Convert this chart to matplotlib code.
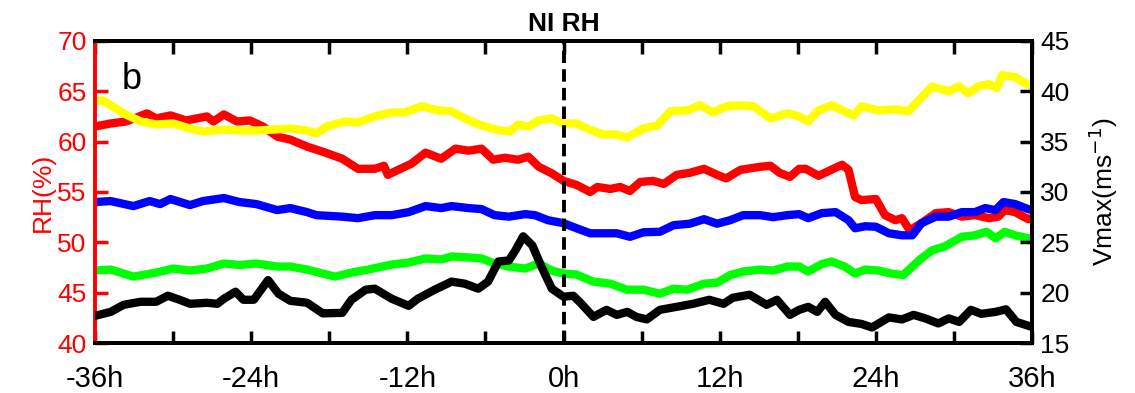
import numpy as np
import matplotlib
matplotlib.use("Agg")
import matplotlib.pyplot as plt

plt.rcParams['font.family'] = ['Liberation Sans', 'DejaVu Sans']

# RH composites (left axis, %)
hours_red = [-36, -34.8, -33.6, -32.0, -31.3, -30.2, -29.0, -27.4, -26.9, -26.1, -25.1, -24.1,
             -23.1, -22.0, -21.0, -19.7, -18.5, -17.0, -15.8, -14.5, -13.8, -13.5, -12.7, -11.7,
             -10.6, -9.4, -8.3, -7.3, -6.3, -5.4, -4.5, -3.5, -2.7, -1.9, -0.9, 0, 1.0, 2.05,
             2.6, 3.6, 4.35, 5.1, 5.9, 6.9, 7.7, 8.7, 9.7, 10.8, 11.8, 12.5, 13.6, 15.1, 15.9,
             16.6, 17.4, 18.1, 18.6, 19.6, 20.4, 21.4, 21.9, 22.4, 22.9, 24.0, 24.7, 25.5, 26.0,
             26.6, 27.5, 28.6, 29.6, 30.6, 31.6, 32.7, 33.4, 33.9, 34.7, 35.7, 36]
rh_red = [61.5, 61.8, 62.0, 62.8, 62.3, 62.6, 62.1, 62.5, 62.0, 62.7, 62.0, 62.1,
          61.5, 60.5, 60.2, 59.5, 59.0, 58.3, 57.3, 57.3, 57.6, 56.7, 57.2, 57.8,
          58.9, 58.3, 59.3, 59.1, 59.3, 58.2, 58.4, 58.2, 58.5, 57.5, 56.85, 56.1, 55.7, 55.0,
          55.5, 55.3, 55.5, 55.1, 56.0, 56.1, 55.8, 56.7, 56.9, 57.3, 56.7, 56.35, 57.2, 57.5, 57.6,
          56.9, 56.5, 57.3, 57.3, 56.6, 57.1, 57.7, 57.2, 54.5, 54.2, 54.3, 52.7, 52.2, 52.4,
          51.2, 51.9, 52.9, 53.0, 52.55, 52.7, 52.4, 52.55, 53.2, 53.0, 52.3, 52.4]

hours_yellow = [-36, -35.4, -33.8, -32.5, -31.3, -30.0, -28.7, -27.7, -26.1, -24.9, -23.6, -22.3,
                -21.0, -19.7, -19.0, -18.2, -16.8, -15.8, -14.5, -13.2, -12.2, -10.9, -9.6, -8.6,
                -7.6, -6.3, -5.0, -4.1, -3.5, -2.7, -1.9, -0.9, 0, 1.0, 2.05, 3.07, 4.1, 4.87,
                6.14, 7.2, 8.2, 9.5, 10.5, 11.5, 12.5, 13.6, 14.6, 15.9, 17.2, 18.1, 18.8, 19.6,
                20.6, 21.6, 22.3, 22.9, 24.2, 25.5, 26.5, 27.3, 28.3, 29.6, 30.4, 31.1, 31.9, 32.7,
                33.3, 33.7, 34.7, 35.6, 36]
rh_yellow = [64.0, 64.1, 62.8, 62.0, 61.7, 61.8, 61.3, 61.0, 61.2, 61.1, 61.1, 61.2,
             61.3, 61.1, 60.8, 61.5, 62.0, 61.9, 62.5, 62.9, 62.9, 63.5, 63.1, 63.0,
             62.3, 61.6, 61.15, 61.0, 61.7, 61.5, 62.1, 62.3, 61.8, 61.8, 61.15, 60.7, 60.7, 60.4,
             61.3, 61.6, 63.0, 63.1, 63.6, 62.9, 63.5, 63.6, 63.5, 62.3, 62.8, 62.5, 62.0, 63.1,
             63.6, 63.0, 62.6, 63.5, 63.1, 63.2, 63.0, 64.1, 65.45, 65.0, 65.5, 64.8, 65.5, 65.7,
             65.3, 66.6, 66.4, 65.7, 65.5]

hours_blue = [-36, -34.8, -33.05, -31.8, -31.0, -30.2, -28.7, -27.7, -26.1, -24.9, -23.6, -22.0,
              -21.0, -19.7, -19.0, -17.0, -15.8, -14.5, -13.2, -11.9, -10.6, -9.4, -8.6, -7.3,
              -6.3, -5.3, -4.2, -2.95, -2.2, -1.2, 0, 1.0, 2.05, 3.07, 4.1, 5.1, 6.14, 7.4,
              8.45, 9.7, 10.8, 11.8, 12.8, 13.8, 15.1, 16.1, 17.2, 18.1, 18.8, 19.85, 20.9, 21.9,
              22.4, 23.2, 24.0, 25.0, 26.0, 26.8, 27.5, 28.6, 29.6, 30.6, 31.6, 32.4, 33.2, 33.8,
              34.7, 35.7, 36]
rh_blue = [54.0, 54.1, 53.6, 54.1, 53.8, 54.3, 53.7, 54.1, 54.4, 54.0, 53.8, 53.2,
           53.4, 53.0, 52.7, 52.55, 52.4, 52.7, 52.7, 53.0, 53.6, 53.4, 53.6, 53.4,
           53.3, 52.7, 52.55, 52.8, 52.7, 52.2, 51.9, 51.4, 50.9, 50.9, 50.9, 50.55, 51.0, 51.05,
           51.7, 51.85, 52.3, 51.85, 52.2, 52.7, 52.7, 52.5, 52.7, 52.8, 52.4, 52.9, 53.0, 52.2,
           51.4, 51.6, 51.55, 50.9, 50.7, 50.7, 51.9, 52.55, 52.55, 53.0, 53.0, 53.4, 53.2, 54.0,
           53.8, 53.3, 53.2]

hours_green = [-36, -34.8, -33.05, -31.3, -30.0, -28.7, -27.4, -26.1, -24.9, -23.6, -22.0, -21.0,
               -19.7, -18.5, -17.55, -16.3, -15.0, -13.2, -11.9, -10.6, -9.4, -8.6, -7.3, -6.3,
               -5.3, -4.2, -2.95, -1.9, -0.9, 0, 1.0, 2.3, 3.6, 4.87, 6.14, 7.4, 8.45, 9.5,
               10.8, 11.8, 12.8, 13.8, 15.1, 16.1, 17.2, 18.1, 18.8, 19.85, 20.6, 21.6, 22.4, 23.2,
               24.2, 25.2, 26.1, 27.3, 28.3, 29.3, 30.6, 31.6, 32.5, 33.2, 33.9, 34.7, 35.7, 36]
rh_green = [47.2, 47.3, 46.6, 47.0, 47.4, 47.2, 47.4, 47.9, 47.75, 47.9, 47.6, 47.6,
            47.3, 46.9, 46.6, 47.0, 47.3, 47.8, 48.0, 48.4, 48.3, 48.6, 48.5, 48.4,
            47.9, 47.6, 47.4, 47.9, 47.2, 46.9, 46.8, 46.1, 45.9, 45.3, 45.3, 44.9, 45.4, 45.3,
            45.9, 46.0, 46.75, 47.1, 47.3, 47.2, 47.6, 47.6, 47.1, 47.85, 48.1, 47.6, 46.9, 47.3,
            47.2, 46.9, 46.75, 48.2, 49.2, 49.6, 50.55, 50.7, 51.05, 50.4, 51.05, 50.7, 50.4, 50.4]

# Vmax composite (right axis, m/s)
hours_vmax = [-36, -34.8, -33.8, -32.5, -31.3, -30.4, -29.5, -28.7, -27.4, -26.6, -26.1, -25.2,
              -24.6, -23.8, -22.7, -21.9, -21.0, -19.7, -18.5, -17.0, -16.3, -15.2, -14.5, -13.2,
              -11.9, -11.2, -9.9, -8.6, -7.6, -6.55, -5.8, -5.0, -4.2, -3.7, -3.1, -2.4, -1.7,
              -0.9, 0, 0.75, 1.3, 2.3, 3.3, 4.1, 4.9, 5.6, 6.4, 7.4, 8.7, 9.95, 11.2, 12.3,
              13.0, 14.3, 15.6, 16.4, 17.4, 18.1, 18.8, 19.5, 20.1, 20.9, 21.9, 22.9, 23.7, 25.0,
              26.0, 26.9, 27.8, 28.8, 29.6, 30.4, 31.3, 32.1, 33.2, 34.0, 34.8, 36]
vmax = [17.7, 18.1, 18.8, 19.1, 19.1, 19.7, 19.3, 18.9, 19.0, 18.9, 19.4, 20.1,
        19.3, 19.3, 21.25, 19.9, 19.2, 19.0, 17.95, 18.0, 19.3, 20.3, 20.4, 19.4,
        18.7, 19.4, 20.3, 21.1, 20.9, 20.4, 21.1, 23.1, 23.2, 24.2, 25.6, 24.7, 22.6,
        20.4, 19.6, 19.7, 19.0, 17.6, 18.3, 17.8, 18.1, 17.6, 17.35, 18.3, 18.6, 18.9, 19.3, 18.9,
        19.5, 19.8, 18.8, 19.3, 17.8, 18.3, 18.6, 18.1, 19.1, 17.8, 17.1, 16.9, 16.55, 17.55,
        17.35, 17.8, 17.45, 16.95, 17.45, 17.1, 18.3, 17.9, 18.1, 18.35, 17.1, 16.6]

xticks = np.arange(-36, 37, 6)
xtick_labels = [f"{t}h" if t % 12 == 0 else "" for t in xticks]

fig = plt.figure(figsize=(11.35, 3.93), dpi=100)
ax = fig.add_axes([0.0837, 0.127, 0.8256, 0.769])
lw = 6
ax.plot(hours_red, rh_red, color='#ff0000', lw=lw, solid_joinstyle='round')
ax.plot(hours_yellow, rh_yellow, color='#ffff00', lw=lw, solid_joinstyle='round')
ax.plot(hours_blue, rh_blue, color='#0000ff', lw=lw, solid_joinstyle='round')
ax.plot(hours_green, rh_green, color='#00ff00', lw=lw, solid_joinstyle='round')
ax.axvline(0, color='black', lw=2.8, ls=(0, (3.2, 1.6)))

ax.set_xlim(-36, 36)
ax.set_ylim(40, 70)
ax.set_xticks(xticks)
ax.set_xticklabels(xtick_labels, fontsize=21)
ax.set_yticks(np.arange(40, 71, 5))
ax.tick_params(axis='x', direction='in', length=9, width=2.5, top=True, pad=16)
ax.tick_params(axis='y', direction='in', length=9, width=2.5, colors='#ff0000',
               labelsize=19, pad=6)
ax.set_ylabel('RH(%)', color='#ff0000', fontsize=19, labelpad=2)
for name, sp in ax.spines.items():
    sp.set_linewidth(2.8)
ax.spines['left'].set_color('#ff0000')

ax2 = ax.twinx()
ax2.plot(hours_vmax, vmax, color='black', lw=lw, solid_joinstyle='round')
ax2.set_ylim(15, 45)
ax2.set_yticks(np.arange(15, 46, 5))
ax2.tick_params(axis='y', direction='in', length=9, width=2.5, labelsize=19, pad=6)
ax2.set_ylabel('Vmax(ms$^{-1}$)', fontsize=19, labelpad=12)
for name, sp in ax2.spines.items():
    sp.set_linewidth(2.8)
ax2.spines['left'].set_visible(False)

ax.set_title('NI RH', fontsize=19, fontweight='bold', pad=7)
ax.text(0.028, 0.93, 'b', transform=ax.transAxes, fontsize=26, va='top', ha='left')

fig.savefig('out.png', dpi=100)
